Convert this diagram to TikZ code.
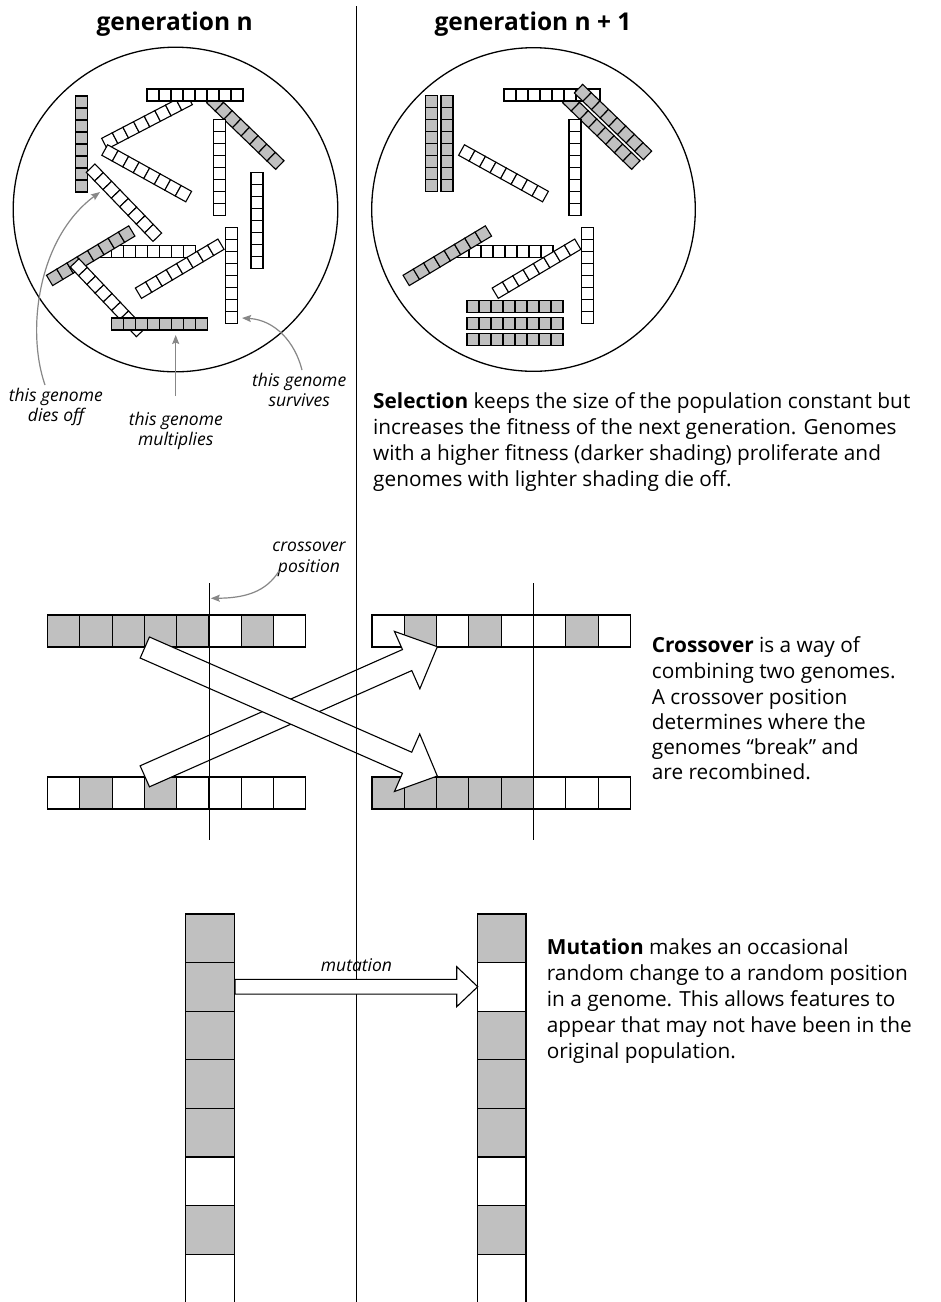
\documentclass[tikz,border=0pt]{standalone}
\usepackage{fontspec}
\setmainfont{Open Sans}
\usetikzlibrary{calc,arrows.meta}
\definecolor{boxgray}{RGB}{192,192,192}
\definecolor{annogray}{RGB}{135,135,135}

\newcommand\gnm[4]{%
  \begin{scope}[shift={(#1,#2)},rotate=#3]
    \foreach \k in {0,...,7}{\draw[cell,fill=#4] ({-48+12*\k},-6) rectangle ++(12,12);}
  \end{scope}}
\newcommand\hrow[5]{%
  \foreach \c [count=\k from 0] in {#5}{\draw[cell,fill=\c] ({#1+\k*#3},#2) rectangle ++(#3,#4);}}
\newcommand\vcol[5]{%
  \foreach \c [count=\k from 0] in {#5}{\draw[cell,fill=\c] (#1,{#2+\k*#4}) rectangle ++(#3,#4);}}
\newcommand\fatarrow[5]{%
  \coordinate (fa-p) at ($(#2)!#5!(#1)$);
  \draw[fatstyle] ($(#1)!#3!90:(#2)$) -- ($(fa-p)!#3!-90:(#1)$) -- ($(fa-p)!#4!-90:(#1)$)
    -- (#2) -- ($(fa-p)!#4!90:(#1)$) -- ($(fa-p)!#3!90:(#1)$) -- ($(#1)!#3!-90:(#2)$) -- cycle;}

\begin{document}
\begin{tikzpicture}[x=1pt,y=-1pt,
  cell/.style={draw=black,line width=1.1pt},
  fatstyle/.style={draw=black,fill=white,line width=1.1pt,line join=miter},
  rule/.style={draw=black,line width=1.1pt},
  ring/.style={draw=black,line width=1.3pt},
  annoarrow/.style={draw=annogray,line width=1.2pt,-{Stealth[length=9pt,width=7pt,inset=1.5pt]}},
  head/.style={font=\fontsize{24.5}{28}\selectfont\bfseries,inner sep=0pt},
  txt/.style={font=\fontsize{20.8}{25}\selectfont,inner sep=0pt},
  lbl/.style={font=\fontsize{17.5}{20}\selectfont\itshape,inner sep=0pt}]
\clip (0,0) rectangle (941,1302);
\fill[white] (0,0) rectangle (941,1302);

% headings
\node[head,anchor=base] (h1) at (174.6,30) {generation n};
\node[head,anchor=base] (h2) at (533,30) {generation n + 1};

% circles
\draw[ring] (175.5,209.5) circle (162.3);
\draw[ring] (533.5,209.5) circle (161.8);

% left population
\gnm{147}{121.5}{27.5}{white}
\gnm{245.3}{131.7}{-44}{boxgray}
\gnm{195}{95}{0}{white}
\gnm{146.7}{173.3}{-29}{white}
\gnm{81.5}{144}{90}{boxgray}
\gnm{219.3}{167.5}{90}{white}
\gnm{257}{220.3}{90}{white}
\gnm{124}{202.7}{-46}{white}
\gnm{147.5}{251.5}{0}{white}
\gnm{90.7}{255.7}{31}{boxgray}
\gnm{107.7}{297.7}{-46.5}{white}
\gnm{179.7}{268.7}{30.7}{white}
\gnm{231.7}{275.5}{90}{white}
\gnm{159.5}{324}{0}{boxgray}

% right population
\gnm{601.3}{131.7}{-44}{boxgray}
\gnm{552}{95}{0}{white}
\gnm{613}{122}{-44}{boxgray}
\gnm{431.2}{143.7}{90}{boxgray}
\gnm{447}{143.7}{90}{boxgray}
\gnm{503.5}{173.3}{-29}{white}
\gnm{575}{167.5}{90}{white}
\gnm{505}{251.5}{0}{white}
\gnm{447.3}{255.7}{31}{boxgray}
\gnm{536.5}{268.7}{30.7}{white}
\gnm{587.5}{275.5}{90}{white}
\gnm{515}{306.3}{0}{boxgray}
\gnm{515}{323.3}{0}{boxgray}
\gnm{515}{339.7}{0}{boxgray}

% annotation labels
\node[lbl,anchor=base] (dies1) at (55.8,401.7) {this genome};
\node[lbl,anchor=base] (dies2) at (56,421.7) {dies off};
\node[lbl,anchor=base] (mult1) at (175.8,425) {this genome};
\node[lbl,anchor=base] (mult2) at (175.8,445) {multiplies};
\node[lbl,anchor=base] (surv1) at (299.2,386.7) {this genome};
\node[lbl,anchor=base] (surv2) at (299.2,406.7) {survives};

\coordinate (dies-s) at (45,385);
\coordinate (dies-t) at (100,192);
\coordinate (mult-s) at (175.7,396);
\coordinate (mult-t) at (175.7,335);
\coordinate (surv-s) at (302,370);
\coordinate (surv-t) at (242,318);
\draw[annoarrow] (dies-s) .. controls (26,330) and (38,238) .. (dies-t);
\draw[annoarrow] (mult-s) -- (mult-t);
\draw[annoarrow] (surv-s) .. controls (295,342) and (275,320) .. (surv-t);

% selection text
\node[txt,anchor=base west] (sel1) at (373,408) {\textbf{Selection} keeps the size of the population constant but};
\node[txt,anchor=base west] (sel2) at (373,434) {increases the fitness of the next generation. Genomes};
\node[txt,anchor=base west] (sel3) at (373,460) {with a higher fitness (darker shading) proliferate and};
\node[txt,anchor=base west] (sel4) at (373,486) {genomes with lighter shading die off.};

% crossover
\hrow{47.5}{615}{32.3}{32}{boxgray,boxgray,boxgray,boxgray,boxgray,white,boxgray,white}
\hrow{47.5}{777}{32.3}{32}{white,boxgray,white,boxgray,white,white,white,white}
\hrow{372}{615}{32.3}{32}{white,boxgray,white,boxgray,white,white,boxgray,white}
\hrow{372}{777}{32.3}{32}{boxgray,boxgray,boxgray,boxgray,boxgray,white,white,white}

\coordinate (a2s) at (144.8,776.3);
\coordinate (a2e) at (437.3,646.7);
\coordinate (a1s) at (144.8,647.5);
\coordinate (a1e) at (437.3,776);
\fatarrow{a2s}{a2e}{11.5pt}{31.4pt}{33pt}
\fatarrow{a1s}{a1e}{11.5pt}{31.4pt}{33pt}

\draw[rule] (356.3,6) -- (356.3,1302);
\coordinate (xl-top) at (209.5,583);
\coordinate (xl-bot) at (209.5,840);
\coordinate (xr-top) at (533.5,583);
\coordinate (xr-bot) at (533.5,840);
\draw[rule] (xl-top) -- (xl-bot);
\draw[rule] (xr-top) -- (xr-bot);

\node[lbl,anchor=base] (cp1) at (309,551.7) {crossover};
\node[lbl,anchor=base] (cp2) at (309,572.3) {position};
\coordinate (cp-s) at (279,571);
\coordinate (cp-t) at (210.8,598.3);
\draw[annoarrow] (cp-s) .. controls (266,592) and (245,598) .. (cp-t);

\node[txt,anchor=base west] (co1) at (651.7,652.7) {\textbf{Crossover} is a way of};
\node[txt,anchor=base west] (co2) at (651.7,678.3) {combining two genomes.};
\node[txt,anchor=base west] (co3) at (651.7,704) {A crossover position};
\node[txt,anchor=base west] (co4) at (651.7,729.3) {determines where the};
\node[txt,anchor=base west] (co5) at (651.7,754.3) {genomes “break” and};
\node[txt,anchor=base west] (co6) at (651.7,779.3) {are recombined.};

% mutation
\vcol{185.5}{914}{49}{48.6}{boxgray,boxgray,boxgray,boxgray,boxgray,white,boxgray,white}
\vcol{477.5}{914}{48.5}{48.6}{boxgray,white,boxgray,boxgray,boxgray,white,boxgray,white}
\coordinate (mu-s) at (235,986.7);
\coordinate (mu-e) at (477.7,986.7);
\fatarrow{mu-s}{mu-e}{7.35pt}{20pt}{21pt}
\node[lbl,anchor=base] (mulbl) at (356.5,971.7) {mutation};

\node[txt,anchor=base west] (mu1) at (546.7,954.3) {\textbf{Mutation} makes an occasional};
\node[txt,anchor=base west] (mu2) at (546.7,980.7) {random change to a random position};
\node[txt,anchor=base west] (mu3) at (546.7,1006.7) {in a genome. This allows features to};
\node[txt,anchor=base west] (mu4) at (546.7,1032.7) {appear that may not have been in the};
\node[txt,anchor=base west] (mu5) at (546.7,1058.7) {original population.};
\end{tikzpicture}
\end{document}
